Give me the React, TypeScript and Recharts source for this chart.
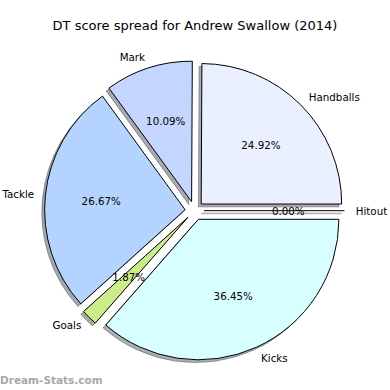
import React from 'react';
import { PieChart, Pie, Cell, Sector } from 'recharts';

const categories = ['Hitout', 'Handballs', 'Mark', 'Tackle', 'Goals', 'Kicks'];
const shares = [0.0, 24.92, 10.09, 26.67, 1.87, 36.45];
const colors = ['#f0f4ff', '#eaf0ff', '#c4d6ff', '#b4d4ff', '#ccec88', '#d8ffff'];

const data = categories.map((name, i) => ({ name, value: shares[i], color: colors[i] }));

const RADIAN = Math.PI / 180;
const CX = 194.5;
const CY = 210.7;
const R = 140.5;
const EXPLODE = 9.45;
const SHADOW = 2.8;
const FONT = 'DejaVu Sans, sans-serif';

const shift = (midAngle: number) => ({
  dx: EXPLODE * Math.cos(-midAngle * RADIAN),
  dy: EXPLODE * Math.sin(-midAngle * RADIAN),
});

const darken = (hex: string) => {
  const n = parseInt(hex.slice(1), 16);
  const r = Math.round(((n >> 16) & 255) * 0.3);
  const g = Math.round(((n >> 8) & 255) * 0.3);
  const b = Math.round((n & 255) * 0.3);
  return `rgb(${r},${g},${b})`;
};

const ShadowShape = (props: any) => {
  const { dx, dy } = shift(props.midAngle);
  const c = darken(props.payload?.color ?? props.fill);
  return (
    <Sector
      {...props}
      cx={props.cx + dx - SHADOW}
      cy={props.cy + dy + SHADOW}
      fill={c}
      fillOpacity={0.45}
      stroke={c}
      strokeOpacity={0.45}
      strokeWidth={1}
    />
  );
};

const WedgeShape = (props: any) => {
  const { dx, dy } = shift(props.midAngle);
  return (
    <Sector
      {...props}
      cx={props.cx + dx}
      cy={props.cy + dy}
      stroke="#000"
      strokeWidth={1}
    />
  );
};

const renderLabel = (props: any) => {
  const { cx, cy, midAngle, outerRadius, index } = props;
  const { dx, dy } = shift(midAngle);
  const cos = Math.cos(-midAngle * RADIAN);
  const sin = Math.sin(-midAngle * RADIAN);
  const ox = cx + dx;
  const oy = cy + dy;
  const px = ox + outerRadius * 0.6 * cos;
  const py = oy + outerRadius * 0.6 * sin;
  const lx = ox + outerRadius * 1.08 * cos;
  const ly = oy + outerRadius * 1.08 * sin;
  const ex = ox + outerRadius * cos;
  const ey = oy + outerRadius * sin;
  return (
    <g key={`lbl-${index}`}>
      {shares[index] === 0 && (
        <g>
          <line x1={ox - SHADOW} y1={oy + SHADOW} x2={ex - SHADOW} y2={ey + SHADOW} stroke="#4a4a4a" strokeOpacity={0.45} strokeWidth={1.5} />
          <line x1={ox} y1={oy} x2={ex} y2={ey} stroke="#000" strokeWidth={1} />
        </g>
      )}
      <text x={px} y={py} textAnchor="middle" dominantBaseline="central" fontSize={10.3} fontFamily={FONT} fill="#000">
        {`${shares[index].toFixed(2)}%`}
      </text>
      <text x={lx} y={ly} textAnchor={lx > cx ? 'start' : 'end'} dominantBaseline="central" fontSize={10.3} fontFamily={FONT} fill="#000">
        {categories[index]}
      </text>
    </g>
  );
};

export default function App() {
  return (
    <div style={{ position: 'absolute', left: 0, top: 0, width: 390, height: 390, background: '#fff' }}>
      <PieChart width={390} height={390} margin={{ top: 0, right: 0, bottom: 0, left: 0 }}>
        <text x={195} y={25} textAnchor="middle" dominantBaseline="central" fontSize={13} fontFamily={FONT} fill="#000">
          DT score spread for Andrew Swallow (2014)
        </text>
        <Pie
          data={data}
          dataKey="value"
          nameKey="name"
          cx={CX}
          cy={CY}
          outerRadius={R}
          startAngle={0}
          endAngle={360}
          isAnimationActive={false}
          shape={ShadowShape}
          label={false}
          labelLine={false}
          stroke="none"
        >
          {data.map((d, i) => (
            <Cell key={`s-${i}`} fill={d.color} />
          ))}
        </Pie>
        <Pie
          data={data}
          dataKey="value"
          nameKey="name"
          cx={CX}
          cy={CY}
          outerRadius={R}
          startAngle={0}
          endAngle={360}
          isAnimationActive={false}
          shape={WedgeShape}
          label={renderLabel}
          labelLine={false}
          stroke="#000"
        >
          {data.map((d, i) => (
            <Cell key={`c-${i}`} fill={d.color} />
          ))}
        </Pie>
        <text x={0} y={384} fontSize={10.5} fontWeight="bold" fontFamily={FONT} fill="#a8a8a8">
          Dream-Stats.com
        </text>
      </PieChart>
    </div>
  );
}
